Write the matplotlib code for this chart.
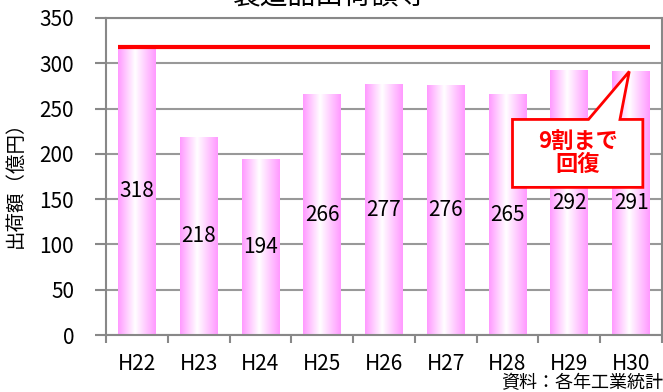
import matplotlib
matplotlib.use('Agg')
import matplotlib.pyplot as plt
from matplotlib.colors import LinearSegmentedColormap
from matplotlib.patches import Polygon
import numpy as np

plt.rcParams['font.family'] = ['Noto Sans CJK JP', 'DejaVu Sans']

# 製造品出荷額等（億円）
years = ['H22', 'H23', 'H24', 'H25', 'H26', 'H27', 'H28', 'H29', 'H30']
values = [318, 218, 194, 266, 277, 276, 265, 292, 291]

fig = plt.figure(figsize=(6.63, 3.92), dpi=100)
ax = fig.add_axes([106 / 663, 57 / 392, 556 / 663, 317 / 392])

x = np.arange(len(years))
bars = ax.bar(x, values, width=0.61, color='none', edgecolor='none', zorder=2)

# ピンク→白→ピンクのグラデーション
pink = LinearSegmentedColormap.from_list(
    'pinkbar', [(0.0, '#ff99ff'), (0.45, '#ffffff'), (1.0, '#ff99ff')])
grad = np.linspace(0, 1, 128).reshape(1, -1)
for b in bars:
    x0, y0 = b.get_x(), b.get_y()
    ax.imshow(grad, cmap=pink, aspect='auto', interpolation='bicubic',
              extent=(x0, x0 + b.get_width(), y0, y0 + b.get_height()), zorder=2)

# データラベル（中央）
for xi, v in zip(x, values):
    ax.text(xi, v / 2, str(v), ha='center', va='center', fontsize=15, zorder=4)

# 基準線（H22の水準）
ax.hlines(values[0], bars[0].get_x(), bars[-1].get_x() + bars[-1].get_width(),
          color='#ff0000', lw=3, zorder=3)

# 吹き出し
tx, ty = x[-1], values[-1]
bx0, bx1, by0, by1 = 6.08, 8.19, 163, 238
callout = Polygon([(bx0, by1), (7.31, by1), (tx - 0.03, ty), (7.82, by1),
                   (bx1, by1), (bx1, by0), (bx0, by0)],
                  closed=True, facecolor='white', edgecolor='#ff0000', lw=2, zorder=5)
ax.add_patch(callout)
ax.text((bx0 + bx1) / 2, (by0 + by1) / 2, '9割まで\n回復', ha='center', va='center',
        color='#ff0000', fontsize=16, fontweight='bold', linespacing=1.0, zorder=6)

ax.set_xlim(-0.5, len(years) - 0.5)
ax.set_ylim(0, 350)
ax.set_yticks(range(0, 351, 50))
ax.set_xticks(np.arange(len(years) + 1) - 0.5)
ax.set_xticklabels([])
ax.set_xticks(x, minor=True)
ax.set_xticklabels(years, minor=True)
ax.tick_params(axis='x', which='major', length=6, width=1.5, color='#888888', direction='out')
ax.tick_params(axis='x', which='minor', length=0, pad=13, labelsize=15)
ax.tick_params(axis='y', length=8, width=1.5, color='#888888', labelsize=15, pad=15)

ax.grid(True, axis='y', color='#999999', lw=1.5, zorder=1)
ax.set_axisbelow(True)
for s in ax.spines.values():
    s.set_color('#888888')
    s.set_linewidth(1.5)

ax.set_ylabel('出荷額（億円）', fontsize=14, va='center')
ax.yaxis.set_label_coords((15 - 106) / 556, 0.49)

fig.text(330 / 663, 0.972, '製造品出荷額等', ha='center', va='bottom', fontsize=20)
fig.text(1.0, 1 - 383 / 392, '資料：各年工業統計', ha='right', va='center', fontsize=13)

plt.savefig('out.png', dpi=100)
plt.close()
